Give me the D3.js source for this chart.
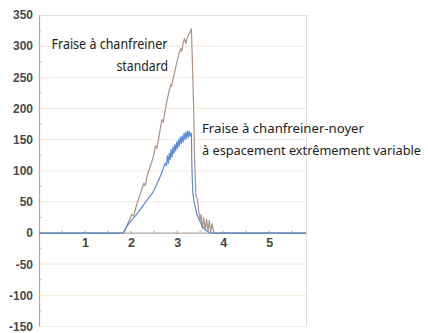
<!DOCTYPE html>
<html>
<head>
<meta charset="utf-8">
<script src="https://cdn.jsdelivr.net/npm/d3@7"></script>
<style>
  html, body { margin: 0; padding: 0; background: #fff; }
  svg { display: block; }
</style>
</head>
<body>
<svg id="chart" width="428" height="333"></svg>
<script>
// Tool-force traces over time (s)
const standardTime = [0, 1.84, 1.9, 1.97, 2.02, 2.06, 2.1, 2.15, 2.2, 2.24, 2.28, 2.31, 2.35, 2.4, 2.45, 2.5, 2.53, 2.56, 2.6, 2.64, 2.67, 2.7, 2.74, 2.78, 2.82, 2.86, 2.88, 2.9, 2.94, 2.98, 3.02, 3.05, 3.08, 3.1, 3.13, 3.16, 3.19, 3.22, 3.25, 3.28, 3.31, 3.33, 3.36, 3.38, 3.41, 3.44, 3.47, 3.5, 3.52, 3.55, 3.58, 3.61, 3.64, 3.67, 3.7, 3.73, 3.76, 3.8, 5.8];
const standardForce = [0, 0, 10, 22, 30, 27, 40, 52, 62, 72, 80, 76, 92, 104, 114, 128, 140, 136, 152, 170, 182, 178, 196, 212, 226, 238, 236, 244, 256, 270, 282, 290, 296, 292, 305, 312, 304, 314, 318, 322, 328, 280, 200, 120, 60, 55, 35, 20, 30, 8, 25, 5, 22, 3, 20, 2, 15, 0, 0];

const variableTime = [0, 1.82, 1.87, 1.92, 1.98, 2.05, 2.1, 2.16, 2.22, 2.28, 2.34, 2.4, 2.46, 2.52, 2.58, 2.64, 2.7, 2.74, 2.77, 2.79, 2.81, 2.83, 2.85, 2.87, 2.89, 2.91, 2.93, 2.95, 2.97, 2.99, 3.01, 3.03, 3.05, 3.07, 3.09, 3.11, 3.13, 3.15, 3.17, 3.19, 3.21, 3.23, 3.25, 3.27, 3.29, 3.31, 3.32, 3.34, 3.37, 3.4, 3.43, 3.46, 3.5, 3.54, 3.58, 3.63, 3.68, 3.73, 5.8];
const variableForce = [0, 0, 6, 12, 18, 24, 28, 34, 40, 46, 52, 58, 64, 72, 82, 92, 104, 112, 108, 124, 112, 128, 118, 134, 122, 138, 128, 142, 132, 146, 136, 150, 140, 154, 144, 156, 146, 160, 150, 162, 152, 164, 154, 163, 156, 160, 110, 65, 50, 40, 30, 24, 18, 12, 8, 4, 2, 0, 0];

const xTicks = [1, 2, 3, 4, 5];
const xMinorTicks = [0.5, 1, 1.5, 2, 2.5, 3, 3.5, 4, 4.5, 5, 5.5];
const yTicks = [-150, -100, -50, 0, 50, 100, 150, 200, 250, 300, 350];
const yMinorTicks = [-125, -75, -25, 25, 75, 125, 175, 225, 275, 325];

const labelStandard = ["Fraise à chanfreiner", "standard"];
const labelVariable = ["Fraise à chanfreiner-noyer", "à espacement extrêmement variable"];

const svg = d3.select("#chart");
const plotLeft = 39, plotRight = 306, plotTop = 15, plotBottom = 326.5;

const x = d3.scaleLinear().domain([0, 5.8]).range([plotLeft, plotRight]);
const y = d3.scaleLinear().domain([-150, 350]).range([plotBottom, plotTop]);

// horizontal grid
svg.append("g")
  .selectAll("line")
  .data(yTicks.filter(v => v !== 0 && v !== 350))
  .join("line")
  .attr("x1", plotLeft).attr("x2", plotRight)
  .attr("y1", d => y(d)).attr("y2", d => y(d))
  .attr("stroke", "#f6ede2").attr("stroke-width", 1.2);

// frame top and right
svg.append("path")
  .attr("d", `M${plotLeft},${plotTop + 0.5}H${plotRight + 0.5}V${plotBottom}`)
  .attr("fill", "none").attr("stroke", "#e2dcd6").attr("stroke-width", 1);

// y axis
const yAxis = d3.axisLeft(y).tickValues(yTicks).tickSize(0).tickPadding(6)
  .tickFormat(d => d < 0 ? "-" + Math.abs(d) : d);
const gy = svg.append("g").attr("transform", `translate(${plotLeft},0)`).call(yAxis);
gy.select(".domain").attr("stroke", "#a9a9a9").attr("stroke-width", 1.2);
gy.selectAll("text")
  .attr("font-family", "Liberation Sans, Arial, sans-serif")
  .attr("font-size", 12).attr("font-weight", "bold").attr("fill", "#4a4a4a");

// y minor ticks
svg.append("g")
  .selectAll("line")
  .data(yMinorTicks)
  .join("line")
  .attr("x1", plotLeft).attr("x2", plotLeft + 2.5)
  .attr("y1", d => y(d)).attr("y2", d => y(d))
  .attr("stroke", "#bbb");

// x axis along zero
const xAxis = d3.axisBottom(x).tickValues(xTicks).tickFormat(d3.format("d"))
  .tickSize(0).tickPadding(5);
const gx = svg.append("g").attr("transform", `translate(0,${y(0)})`).call(xAxis);
gx.select(".domain").attr("d", `M${plotLeft},0H${plotRight}`).attr("stroke", "#b0a79f").attr("stroke-width", 1.2);
gx.selectAll("text")
  .attr("font-family", "Liberation Sans, Arial, sans-serif")
  .attr("font-size", 12.5).attr("font-weight", "bold").attr("fill", "#444");

// x minor ticks
svg.append("g")
  .selectAll("line")
  .data(xMinorTicks)
  .join("line")
  .attr("x1", d => x(d)).attr("x2", d => x(d))
  .attr("y1", y(0) - 2.5).attr("y2", y(0))
  .attr("stroke", "#b0a79f");

const line = d3.line().x(d => x(d[0])).y(d => y(d[1]));

svg.append("path")
  .datum(standardTime.map((t, i) => [t, standardForce[i]]))
  .attr("d", line)
  .attr("fill", "none").attr("stroke", "#ab9283").attr("stroke-width", 1.2)
  .attr("stroke-linejoin", "round");

svg.append("path")
  .datum(variableTime.map((t, i) => [t, variableForce[i]]))
  .attr("d", line)
  .attr("fill", "none").attr("stroke", "#5b8bd8").attr("stroke-width", 1.2)
  .attr("stroke-linejoin", "round");

// annotations: narrow, tall lettering
const annFont = "Noto Sans, Open Sans, sans-serif";
function note(txt, px, py, size, width, anchor) {
  svg.append("text")
    .attr("x", px).attr("y", py)
    .attr("text-anchor", anchor || "start")
    .attr("font-family", annFont).attr("font-size", size).attr("fill", "#222")
    .attr("textLength", width).attr("lengthAdjust", "spacingAndGlyphs")
    .text(txt);
}
note(labelStandard[0], 51.5, 49, 14.5, 116);
note(labelStandard[1], 168, 71, 14.5, 51.5, "end");
note(labelVariable[0], 202, 133, 13.2, 162);
note(labelVariable[1], 202, 154.5, 13.2, 219);
</script>
</body>
</html>
